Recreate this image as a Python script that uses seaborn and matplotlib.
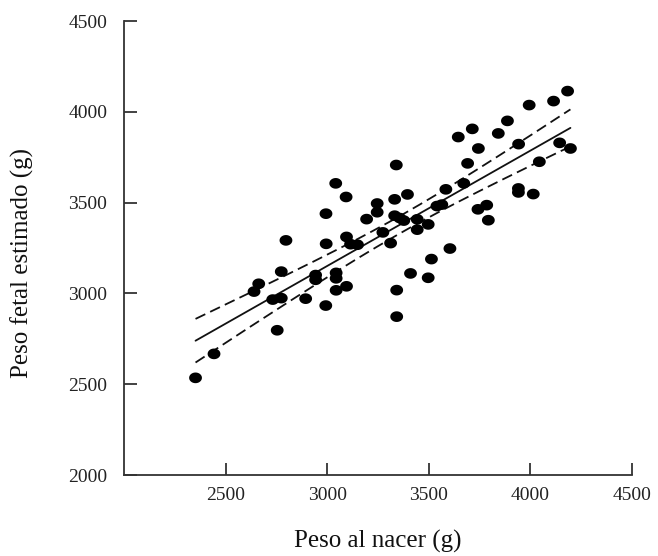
import numpy as np
import pandas as pd
import matplotlib
matplotlib.use("Agg")
import matplotlib.pyplot as plt
import seaborn as sns
from matplotlib.path import Path

# Birth weight (g) and estimated fetal weight (g) for each infant
peso_nacer = [2352, 2443, 2640, 2663, 2774, 2732, 2774, 2754, 2797, 2894,
              2943, 2943, 2994, 2995, 2993, 3042, 3044, 3044, 3044, 3095,
              3093, 3095, 3115, 3149, 3194, 3246, 3246, 3274, 3312, 3332,
              3332, 3340, 3342, 3342, 3357, 3377, 3395, 3410, 3443, 3443,
              3497, 3497, 3513, 3540, 3564, 3584, 3604, 3645, 3672, 3691,
              3714, 3744, 3742, 3785, 3793, 3842, 3887, 3942, 3941, 3941,
              3994, 4014, 4044, 4114, 4144, 4183, 4197]
peso_fetal = [2535, 2667, 3010, 3053, 3120, 2966, 2974, 2797, 3292, 2971,
              3101, 3075, 3439, 3273, 2933, 3606, 3113, 3083, 3017, 3039,
              3531, 3311, 3271, 3268, 3409, 3495, 3447, 3336, 3277, 3518,
              3428, 3707, 3018, 2872, 3415, 3401, 3545, 3110, 3408, 3351,
              3380, 3086, 3189, 3481, 3489, 3573, 3247, 3861, 3606, 3716,
              3906, 3798, 3463, 3486, 3403, 3881, 3950, 3822, 3578, 3556,
              4037, 3547, 3725, 4059, 3829, 4114, 3798]

x_ticks = [2500, 3000, 3500, 4000, 4500]
y_ticks = [2000, 2500, 3000, 3500, 4000, 4500]

sns.set_theme(style="ticks")
plt.rcParams["font.family"] = ["Liberation Serif", "DejaVu Serif"]

df = pd.DataFrame({"peso_nacer": peso_nacer, "peso_fetal": peso_fetal})

# Least-squares line with the 95% confidence band for the mean response
x = df["peso_nacer"].to_numpy(float)
y = df["peso_fetal"].to_numpy(float)
n = len(x)
b1, b0 = np.polyfit(x, y, 1)
resid = y - (b0 + b1 * x)
s = np.sqrt(resid @ resid / (n - 2))
sxx = ((x - x.mean()) ** 2).sum()
t_crit = 1.997  # t(0.975, n-2)
xg = np.linspace(x.min(), x.max(), 200)
fit = b0 + b1 * xg
half = t_crit * s * np.sqrt(1.0 / n + (xg - x.mean()) ** 2 / sxx)
band = pd.DataFrame({"x": xg, "fit": fit, "lo": fit - half, "hi": fit + half})

fig = plt.figure(figsize=(6.58, 5.56), dpi=100)
ax = fig.add_axes([124 / 658, 1 - 475 / 556, 508 / 658, 454 / 556])

# slightly wide elliptical dot
theta = np.linspace(0, 2 * np.pi, 60)
dot = Path(np.column_stack([1.2 * np.cos(theta), np.sin(theta)]), closed=True)

sns.scatterplot(data=df, x="peso_nacer", y="peso_fetal", ax=ax,
                marker=dot, s=85, color="black", edgecolor="none", zorder=3)
sns.lineplot(data=band, x="x", y="fit", ax=ax, color="#111111", lw=1.3)
for col in ("lo", "hi"):
    sns.lineplot(data=band, x="x", y=col, ax=ax, color="#111111", lw=1.3,
                 linestyle=(0, (6, 3)))

ax.set_xlim(2000, 4500)
ax.set_ylim(2000, 4500)
ax.set_xticks(x_ticks)
ax.set_yticks(y_ticks)
sns.despine(ax=ax)
for side in ("left", "bottom"):
    ax.spines[side].set_linewidth(1.3)
    ax.spines[side].set_color("#333333")
ax.tick_params(direction="in", length=9, width=1.3, color="#333333",
               labelsize=14, labelcolor="#222222")
ax.tick_params(axis="x", pad=9)
ax.tick_params(axis="y", pad=12)

ax.set_xlabel("Peso al nacer (g)", fontsize=18, color="#111111")
ax.set_ylabel("Peso fetal estimado (g)", fontsize=18, color="#111111")
ax.xaxis.set_label_coords(0.5, -0.12)
ax.yaxis.set_label_coords(-0.178, 0.467)

fig.savefig("out.png", dpi=100)
